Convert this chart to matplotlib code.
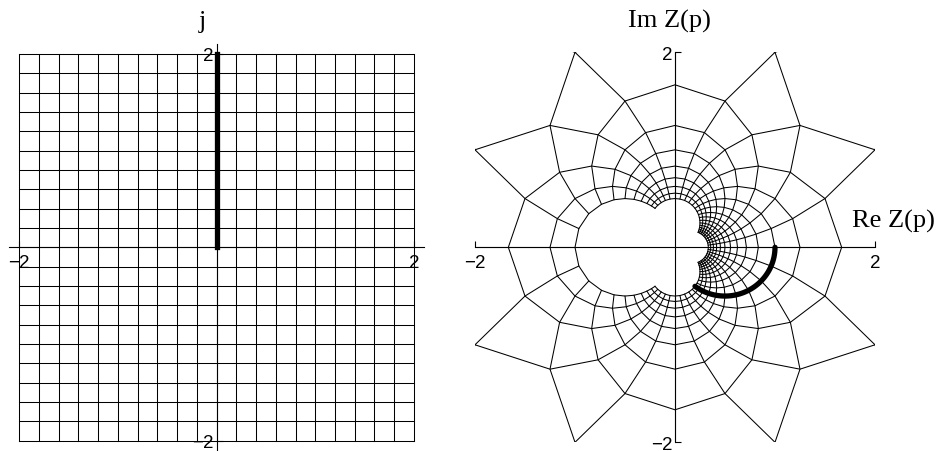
import numpy as np
import matplotlib
matplotlib.use("Agg")
import matplotlib.pyplot as plt

# grid in the p-plane (step 0.2 from -2 to 2)
GRID_VALUES = [-2.0, -1.8, -1.6, -1.4, -1.2, -1.0, -0.8, -0.6, -0.4, -0.2, 0.0,
               0.2, 0.4, 0.6, 0.8, 1.0, 1.2, 1.4, 1.6, 1.8, 2.0]
# highlighted segment p = j*omega
OMEGA_START = 0.0
OMEGA_END = 2.0
TICKS = [-2, 2]
TICK_LABELS = ["\u22122", "2"]

W, H = 938, 452
SERIF = ["Liberation Serif", "DejaVu Serif"]
SANS = ["Liberation Sans", "DejaVu Sans"]


def Z(p):
    # Z(p) = 1/(1+p); the pole p = -1 is left out of the drawing
    p = np.asarray(p, dtype=complex)
    d = 1 + p
    out = np.full(p.shape, np.nan + 0j)
    ok = np.abs(d) > 1e-12
    out[ok] = 1 / d[ok]
    return out


def px_axes(fig, x0, x1, ytop, ybot):
    return fig.add_axes([x0 / W, 1 - ybot / H, (x1 - x0) / W, (ybot - ytop) / H])


def style_axes(ax, xlim, ylim):
    ax.set_xlim(*xlim)
    ax.set_ylim(*ylim)
    for s in ["top", "right"]:
        ax.spines[s].set_visible(False)
    for s in ["left", "bottom"]:
        ax.spines[s].set_position("zero")
        ax.spines[s].set_linewidth(0.8)
    ax.set_xticks(TICKS)
    ax.set_yticks(TICKS)
    ax.set_xticklabels(TICK_LABELS, fontfamily=SANS, fontsize=13.5)
    ax.set_yticklabels(TICK_LABELS, fontfamily=SANS, fontsize=13.5)
    ax.tick_params(axis="x", direction="in", length=4, width=0.8, pad=5)
    ax.tick_params(axis="y", direction="in", length=4, width=0.8, pad=2)
    ax.patch.set_visible(False)


fig = plt.figure(figsize=(W / 100, H / 100), dpi=100)

# left: the p-plane grid
ax1 = px_axes(fig, 9.4, 423.8, 45.3, 451.4)
g = np.array(GRID_VALUES)
for c in GRID_VALUES:
    ax1.plot([c, c], [g[0], g[-1]], color="black", lw=0.75)
    ax1.plot([g[0], g[-1]], [c, c], color="black", lw=0.75)
ax1.plot([0, 0], [OMEGA_START, OMEGA_END], color="black", lw=3.8,
         solid_capstyle="projecting", zorder=5)
style_axes(ax1, (-2.1, 2.1), (-2.1, 2.1))

# right: image of the grid under Z(p)
ax2 = px_axes(fig, 475, 875, 53.3, 443.3)
for c in GRID_VALUES:
    w = Z(c + 1j * g)
    ax2.plot(w.real, w.imag, color="black", lw=0.75)
    w = Z(g + 1j * c)
    ax2.plot(w.real, w.imag, color="black", lw=0.75)
omega = np.linspace(OMEGA_START, OMEGA_END, 80)
w = Z(1j * omega)
ax2.plot(w.real, w.imag, color="black", lw=3.8, solid_capstyle="round", zorder=5)
style_axes(ax2, (-2, 2), (-2, 2))

fig.text(202 / W, 1 - 28 / H, "j", fontfamily=SERIF, fontsize=19,
         ha="center", va="baseline")
fig.text(669 / W, 1 - 28 / H, "Im Z(p)", fontfamily=SERIF, fontsize=19,
         ha="center", va="baseline")
fig.text(852 / W, 1 - 228 / H, "Re Z(p)", fontfamily=SERIF, fontsize=19,
         ha="left", va="baseline")

fig.savefig("out.png", dpi=100)
